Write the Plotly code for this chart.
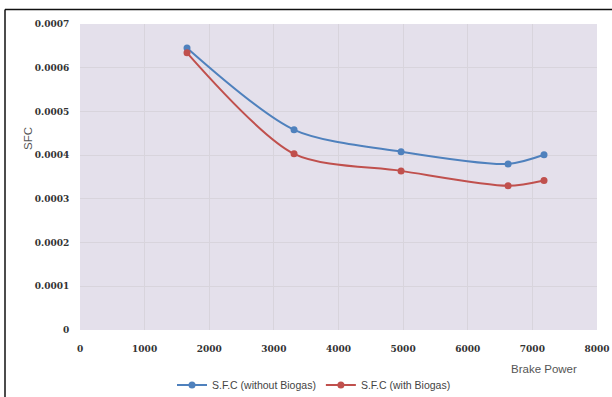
import plotly.graph_objects as go

brake_power = [1656, 3312, 4968, 6624, 7180]
sfc_without_biogas = [0.000645, 0.000458, 0.000408, 0.000380, 0.000401]
sfc_with_biogas = [0.000634, 0.000403, 0.000364, 0.000330, 0.000342]

x_ticks = [0, 1000, 2000, 3000, 4000, 5000, 6000, 7000, 8000]
y_ticks = [0, 0.0001, 0.0002, 0.0003, 0.0004, 0.0005, 0.0006, 0.0007]
y_tick_text = ["0", "0.0001", "0.0002", "0.0003", "0.0004", "0.0005", "0.0006", "0.0007"]

W, H = 612, 397
L, R, T, B = 80, 15, 24, 67
pw, ph = W - L - R, H - T - B


def px_x(p):
    return (p - L) / pw


def px_y(p):
    return (H - B - p) / ph


tick_font = dict(family="DejaVu Serif", size=9, color="#333333", weight="bold")
label_font = dict(family="Liberation Sans", size=11.5, color="#555555")

fig = go.Figure()
fig.add_trace(go.Scatter(
    x=brake_power, y=sfc_without_biogas, name="S.F.C (without Biogas)",
    mode="lines+markers", line=dict(color="#4f81bd", width=2, shape="spline", smoothing=0.8),
    marker=dict(size=7, color="#4f81bd"),
))
fig.add_trace(go.Scatter(
    x=brake_power, y=sfc_with_biogas, name="S.F.C (with Biogas)",
    mode="lines+markers", line=dict(color="#c0504d", width=2, shape="spline", smoothing=0.8),
    marker=dict(size=7, color="#c0504d"),
))

fig.update_layout(
    width=W, height=H, autosize=False,
    margin=dict(l=L, r=R, t=T, b=B, autoexpand=False),
    paper_bgcolor="white",
    plot_bgcolor="#e4e0eb",
    showlegend=True,
    legend=dict(
        orientation="h", xref="container", yref="container",
        x=314 / W, y=1 - 385 / H, xanchor="center", yanchor="middle",
        font=dict(family="Liberation Sans", size=10.5, color="#444444"),
        bgcolor="rgba(0,0,0,0)", itemwidth=30, tracegroupgap=0,
    ),
    xaxis=dict(
        range=[0, 8000], tickvals=x_ticks, ticktext=[str(v) for v in x_ticks],
        showgrid=True, gridcolor="#d8d4dc", gridwidth=1, zeroline=False, automargin=False,
        showline=False, ticks="outside", ticklen=10, tickcolor="rgba(0,0,0,0)",
        tickfont=tick_font, fixedrange=True,
    ),
    yaxis=dict(
        range=[0, 0.0007], tickvals=y_ticks, ticktext=y_tick_text,
        showgrid=True, gridcolor="#d8d4dc", gridwidth=1, zeroline=False, automargin=False,
        showline=False, ticks="outside", ticklen=8, tickcolor="rgba(0,0,0,0)",
        tickfont=tick_font, fixedrange=True,
    ),
    annotations=[
        dict(text="SFC", x=px_x(28), y=px_y(139), xref="paper", yref="paper",
             xanchor="center", yanchor="middle",
             showarrow=False, textangle=-90, font=label_font),
        dict(text="Brake Power", x=px_x(544), y=px_y(369), xref="paper", yref="paper",
             xanchor="center", yanchor="middle",
             showarrow=False, font=label_font),
    ],
    shapes=[
        dict(type="line", xref="paper", yref="paper", x0=px_x(5), x1=px_x(W), y0=px_y(9.5), y1=px_y(9.5),
             line=dict(color="#111111", width=1.5)),
        dict(type="line", xref="paper", yref="paper", x0=px_x(5), x1=px_x(5), y0=px_y(9.5), y1=px_y(H),
             line=dict(color="#111111", width=1.5)),
    ],
)

fig.write_html("out.html", config={"responsive": False})
